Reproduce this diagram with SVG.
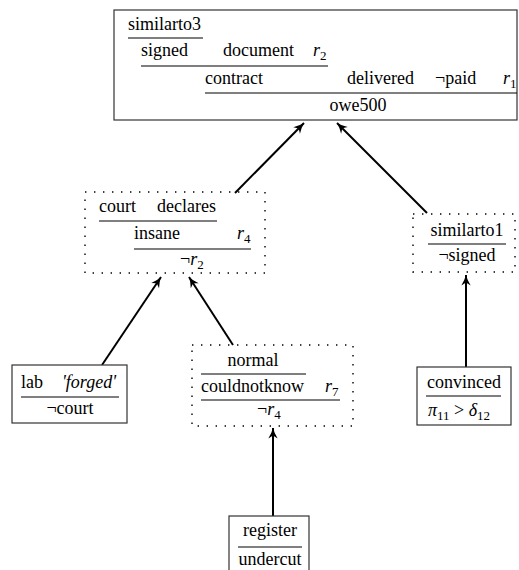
<svg xmlns="http://www.w3.org/2000/svg" width="519" height="570" viewBox="0 0 519 570">
<defs>
<style>
text{font-family:'Liberation Serif','Times New Roman',Times,serif;font-size:18px;fill:#000}
.it{font-style:italic}
.sub{font-size:13px;font-style:normal}
.box{fill:#fff;stroke:#333;stroke-width:1.2}
.dbox{fill:none;stroke:#000;stroke-width:1.4;stroke-dasharray:1.4 7.6}
.rule{stroke:#000;stroke-width:1.1}
.edge{stroke:#000;stroke-width:2;fill:none;marker-end:url(#ah)}
</style>
<marker id="ah" markerUnits="userSpaceOnUse" markerWidth="14" markerHeight="12" viewBox="-10 -5 12 10" refX="0" refY="0" orient="auto">
<path d="M0,0 Q-4,-1 -9,-4 L-6.5,0 L-9,4 Q-4,1 0,0 Z" fill="#000"/>
</marker>
</defs>

<g id="connectors">
<line class="edge" x1="235" y1="193" x2="304" y2="123"/>
<line class="edge" x1="427" y1="213" x2="337" y2="123"/>
<line class="edge" x1="102" y1="365" x2="161" y2="277"/>
<line class="edge" x1="233" y1="345" x2="189" y2="277"/>
<line class="edge" x1="466" y1="367" x2="466" y2="275"/>
<line class="edge" x1="273" y1="516" x2="273" y2="428"/>
</g>

<g id="n-top">
<rect class="box" x="114" y="10" width="403" height="110"/>
<text x="128" y="30">similarto3</text>
<line class="rule" x1="128" y1="38" x2="203" y2="38"/>
<text x="141" y="56">signed</text>
<text x="223" y="56">document</text>
<text x="313" y="56" class="it">r<tspan class="sub" dy="4">2</tspan></text>
<line class="rule" x1="141" y1="66" x2="328" y2="66"/>
<text x="205" y="84">contract</text>
<text x="347" y="84">delivered</text>
<text x="435" y="84">¬paid</text>
<text x="503" y="84" class="it">r<tspan class="sub" dy="4">1</tspan></text>
<line class="rule" x1="205" y1="93" x2="517" y2="93"/>
<text x="358" y="111" text-anchor="middle">owe500</text>
</g>

<g id="n-court">
<rect class="dbox" x="85" y="192" width="180" height="81"/>
<text x="99" y="212">court</text>
<text x="157" y="212">declares</text>
<line class="rule" x1="99" y1="221" x2="217" y2="221"/>
<text x="134" y="239">insane</text>
<text x="237" y="239" class="it">r<tspan class="sub" dy="4">4</tspan></text>
<line class="rule" x1="134" y1="249" x2="251" y2="249"/>
<text x="180" y="265">¬<tspan class="it">r</tspan><tspan class="sub" dy="4">2</tspan></text>
</g>

<g id="n-similarto1">
<rect class="dbox" x="413" y="214" width="102" height="58"/>
<text x="467" y="236" text-anchor="middle">similarto1</text>
<line class="rule" x1="428" y1="244" x2="506" y2="244"/>
<text x="467" y="261" text-anchor="middle">¬signed</text>
</g>

<g id="n-lab">
<rect class="box" x="12" y="365" width="115" height="58"/>
<text x="21" y="388">lab</text>
<text x="62" y="388" class="it">'forged'</text>
<line class="rule" x1="21" y1="397" x2="119" y2="397"/>
<text x="70" y="414" text-anchor="middle">¬court</text>
</g>

<g id="n-normal">
<rect class="dbox" x="192" y="345" width="161" height="81"/>
<text x="253" y="366" text-anchor="middle">normal</text>
<line class="rule" x1="201" y1="374" x2="306" y2="374"/>
<text x="201" y="392">couldnotknow</text>
<text x="325" y="392" class="it">r<tspan class="sub" dy="4">7</tspan></text>
<line class="rule" x1="201" y1="400" x2="340" y2="400"/>
<text x="257" y="415">¬<tspan class="it">r</tspan><tspan class="sub" dy="4">4</tspan></text>
</g>

<g id="n-convinced">
<rect class="box" x="417" y="367" width="94" height="58"/>
<text x="464" y="388" text-anchor="middle">convinced</text>
<line class="rule" x1="426" y1="396" x2="501" y2="396"/>
<text x="428" y="416" class="it">π<tspan class="sub" dy="4">11</tspan><tspan dy="-4" font-style="normal"> &gt; </tspan>δ<tspan class="sub" dy="4">12</tspan></text>
</g>

<g id="n-register">
<rect class="box" x="229" y="516" width="80" height="70"/>
<text x="270" y="536" text-anchor="middle">register</text>
<line class="rule" x1="238" y1="547" x2="302" y2="547"/>
<text x="270" y="565" text-anchor="middle">undercut</text>
</g>
</svg>
